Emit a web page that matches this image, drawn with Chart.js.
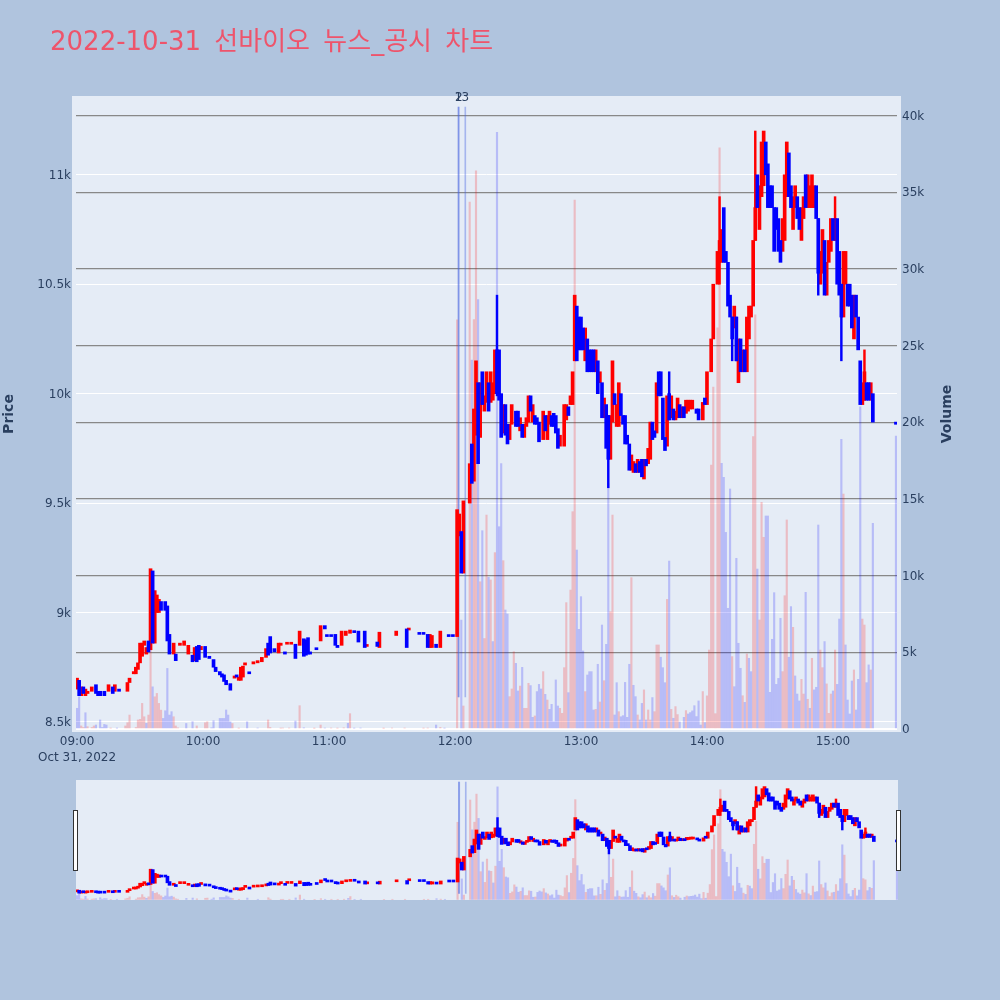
<!DOCTYPE html>
<html><head><meta charset="utf-8">
<style>
html,body{margin:0;padding:0;background:#B0C4DE;width:1000px;height:1000px;overflow:hidden}
canvas{position:absolute;left:0}
#main{top:0}#mini{top:780px}
</style>
<script src="https://cdn.jsdelivr.net/npm/chart.js@4"></script>
</head><body>
<canvas id="main" width="1000" height="780"></canvas>
<canvas id="mini" width="1000" height="120"></canvas>
<script>
const chartTitle = '2022-10-31 선바이오 뉴스_공시 차트';
const timeTicks = [0,60,120,180,240,300,360];
const timeLabels = [['09:00','Oct 31, 2022'],'10:00','11:00','12:00','13:00','14:00','15:00'];
const priceTicks = [8500,9000,9500,10000,10500,11000];
const priceLabels = ['8.5k','9k','9.5k','10k','10.5k','11k'];
const volumeTicks = [0,5000,10000,15000,20000,25000,30000,35000,40000];
const volumeLabels = ['0','5k','10k','15k','20k','25k','30k','35k','40k'];
const newsMinutes = [181.6,181.8,184.9];
const newsLabels = ['1','2','3'];
const newsLineFrom = 2090, newsLineTo = 40550;

// candles: minute after 09:00, open, close
const candleMinutes = [
0,1,2,3,4,5,7,9,10,11, 13,15,17,18,20,24,25,27,28,29,
30,31,32,33,34,35,36,37,38,39, 40,42,43,44,46,47,49,51,53,55,
56,57,58,59,61,63,65,66,68,69, 70,71,73,75,76,77,78,79,80,82,
84,86,88,90,91,92,94,96,97,99, 100,102,104,106,108,109,110,111,114,116,
118,119,121,123,124,126,128,130,132,134, 137,138,143,144,152,157,158,163,165,167,
168,169,171,173,177,179,181,182,183,184, 187,188,189,190,191,192,193,194,195,196,
197,198,199,200,201,202,203,204,205,206, 207,209,210,211,212,213,214,215,216,217,
218,219,220,222,223,224,225,226,227,228, 229,230,232,233,234,235,236,237,238,239,
240,241,242,243,244,245,246,247,248,249, 250,251,252,253,254,255,256,257,258,259,
260,261,262,263,264,265,266,267,268,269, 270,271,272,273,274,275,276,277,278,279,
280,281,282,283,284,285,286,287,288,289, 290,291,292,293,295,296,298,299,300,302,
303,305,306,307,308,309,310,311,312,313, 314,315,316,317,318,319,320,321,322,323,
324,325,326,327,328,329,330,331,332,333, 334,335,336,337,338,339,340,341,342,343,
344,345,346,347,348,349,350,351,352,353, 354,355,356,357,358,359,360,361,362,363,
364,365,366,367,368,369,370,371,372,373, 374,375,376,377,378,379,390];
const opens = [
8650,8690,8620,8660,8620,8630,8640,8670,8640,8640, 8640,8640,8660,8640,8650,8640,8680,8720,8720,8740,
8770,8800,8850,8810,8870,8830,9190,8860,9000,9000, 9050,9050,9030,8900,8810,8810,8850,8850,8810,8805,
8780,8845,8850,8830,8845,8800,8785,8750,8730,8720, 8715,8690,8675,8700,8715,8690,8690,8705,8760,8725,
8765,8770,8775,8795,8860,8890,8835,8815,8850,8820, 8855,8855,8855,8850,8880,8875,8885,8820,8835,8870,
8940,8895,8895,8900,8850,8850,8895,8905,8912,8915, 8915,8845,8865,8840,8895,8925,8920,8905,8905,8900,
8840,8840,8855,8840,8895,8895,8890,9350,9370,9180, 9500,9770,9600,9810,10050,9800,10100,9920,9960,10050,
9960,9970,10000,10200,10200,10000,9820,9950,9860,9790, 9860,9920,9920,9830,9860,9800,9850,9870,9990,9870,
9900,9890,9870,9790,9900,9790,9860,9900,9910,9900, 9840,9760,9760,9880,9940,9950,9950,10150,10400,10350,
10350,10300,10150,10250,10200,10200,10200,10100,10150,10050, 10050,9890,9950,9900,9700,9870,10000,9850,9850,10000,
9900,9900,9810,9770,9650,9640,9680,9640,9690,9700, 9610,9700,9680,9700,9870,9830,9820,10100,10100,9980,
9800,9760,10000,9890,9930,9880,9890,9950,9890,9940, 9910,9920,9930,9930,9930,9930,9880,9980,9950,10100,
10250,10500,10600,10600,10850,10650,10600,10450,10350,10300, 10350,10050,10250,10100,10200,10100,10250,10350,10400,10700,
11000,10750,10900,10950,11150,11050,10950,10950,10850,10850, 10800,10700,10650,10700,10900,11100,10950,10750,10850,10900,
10850,10700,10800,11000,10850,10850,10850,10850,10950,10800, 10500,10550,10700,10450,10600,10650,10800,10700,10800,10650,
10500,10350,10500,10500,10500,10450,10250,10450,10350,10150, 9950,9970,10050,10050,9970,10000,9870];
const closes = [
8700,8620,8660,8630,8650,8640,8660,8630,8620,8620, 8620,8670,8630,8670,8640,8680,8700,8730,8750,8770,
8860,8860,8870,8840,8820,9200,8860,9100,9080,9060, 9010,9010,8870,8810,8860,8780,8860,8870,8850,8775,
8840,8775,8785,8845,8795,8790,8750,8730,8715,8705, 8685,8670,8645,8710,8705,8705,8750,8755,8770,8720,
8775,8780,8795,8835,8805,8815,8820,8860,8860,8810, 8860,8860,8790,8915,8800,8805,8810,8810,8830,8940,
8925,8890,8890,8850,8840,8915,8915,8920,8908,8865, 8840,8850,8845,8910,8915,8840,8925,8900,8900,8840,
8900,8895,8840,8915,8890,8890,9470,9450,9180,9510, 9680,9590,9930,10150,9680,10050,9950,9990,10100,9920,
10100,10050,10200,10000,9970,9800,9950,9810,9770,9860, 9950,9850,9850,9890,9800,9860,9890,9990,9920,9950,
9860,9860,9780,9920,9830,9900,9920,9850,9850,9820, 9750,9810,9950,9950,9900,9990,10100,10450,10150,10200,
10200,10200,10300,10100,10100,10100,10100,10200,10000,10100, 9890,9980,9750,9700,9900,10150,9950,9950,10050,9900,
9860,9770,9770,9650,9720,9690,9640,9700,9640,9620, 9700,9670,9750,9870,9790,9800,10050,9990,9990,9790,
9740,9990,9880,9990,9880,9920,9980,9890,9940,9890, 9970,9970,9970,9970,9910,9880,9960,9950,10100,10250,
10500,10650,10700,10750,10600,10600,10400,10350,10250,10400, 10150,10250,10100,10200,10100,10350,10400,10400,10700,10850,
10850,10950,11150,11200,11000,10850,10850,10850,10650,10750, 10650,10600,10800,11000,11150,10900,10850,10900,10950,10800,
10750,10850,10900,10850,11000,10950,11000,10950,10800,10550, 10650,10750,10450,10600,10700,10800,10700,10800,10500,10450,
10350,10650,10650,10400,10400,10300,10450,10350,10200,9950, 10050,10100,9970,9970,10050,9870,9860];
// thin wicks, only where they reach beyond the body
const wickMinutes = [200,253,282,306,312,314,323,353,361,364,375];
const wickLows = [9990,9570,9880,10500,10150,10150,10700,10450,10700,10150,9970];
const wickHighs = [10450,9900,10100,10900,10350,10350,11200,10800,10900,10500,10200];

// volume per minute 0..390, ten per line; volumeSides: r = up, b = down
const volumes = [
1350,2100,200,100,1060,150,0,100,200,260,
0,590,100,300,260,0,50,0,0,50,
0,0,0,200,410,910,0,0,100,590,
630,1670,800,370,910,6700,2750,2100,2320,1670,
1230,690,1190,3950,910,1130,800,200,80,0,
0,0,360,0,0,480,0,200,0,0,
0,410,470,0,80,540,0,0,690,690,
690,1240,910,470,360,0,0,50,0,0,
0,470,0,0,0,0,60,0,0,0,
0,590,100,0,0,0,0,50,60,0,
0,60,0,0,520,0,1520,0,80,0,
0,0,0,40,0,0,260,0,60,0,
0,60,0,0,50,0,0,80,0,370,
1000,0,50,0,0,60,0,0,0,0,
0,0,0,0,0,0,40,0,0,0,
60,0,0,0,0,0,60,0,0,0,
0,0,0,0,0,50,0,60,0,0,
0,260,0,100,0,50,0,0,0,0,
0,26670,0,7100,1500,0,0,34360,24060,26700,
36400,28000,9600,12930,5900,13950,9890,9720,5700,11500,
38900,13190,17300,10975,7760,7500,2110,2610,5040,4280,
2480,2800,4020,1350,1350,2980,2830,760,850,2440,
2910,2610,3740,2260,1890,1280,1610,480,3200,1500,
1350,1020,4000,8240,2370,9060,14170,34490,11670,6500,
8630,5090,2440,3520,3740,3740,1240,1280,4220,1760,
6780,3150,5520,16000,7650,13950,915,3020,1130,800,
870,3040,760,4220,9870,2850,2110,915,590,1670,
2550,590,1240,590,2050,1130,5480,5480,4680,4000,
3020,8450,10950,1280,700,1460,940,460,0,760,
1200,980,1070,1180,1520,810,1830,260,2440,420,
2160,5150,17210,22300,1000,26150,37900,17320,16410,12820,
7870,15650,4720,2760,11130,5590,3960,2170,1740,4890,
4610,3740,19060,27000,10430,7110,14780,12500,13890,13890,
2390,5850,8890,2910,3300,7220,3740,8690,13630,4680,
7980,6630,3460,2280,1830,3240,2280,8910,1940,1350,
4610,2550,2720,13300,5150,4000,5700,2940,1020,2280,
2480,5150,2910,7170,18890,15320,5480,1890,980,3130,
3850,1240,3240,21000,7170,6780,3020,4180,3850,13410,
0,0,0,0,0,0,0,0,0,0,
19100];
const volumeSides = (
'bbrrbrrrrb'+'bbbbbrrrrb'+'bbrrrrrrrr'+'rrrbrrbrrr'+'rbbbbbrrrb'+
'brbbbbbrrb'+'brrbbbbbbb'+'bbbbrbbrrb'+'rbbrbrbrbr'+'brrbrrbrrr'+
'brrrbbrbbr'+'brbrbbrrbb'+'brbbrbrrbb'+'rrbbrbbrrb'+'bbbbrbrbbb'+
'rbbbrbrbbr'+'bbbbbrbrbb'+'rbbrbbbbbb'+'brbbrbbrbr'+'rbrbrrbrbr'+
'bbbrbbrrrb'+'brbrrrbbrb'+'bbrbrbbbbb'+'rrrrbrrrbb'+'bbrbbbbrbr'+
'brbbrrbbrb'+'bbbbrbbrbb'+'rbrrbrrrbb'+'brbrbrrbbb'+'rbbbbbbbrb'+
'rrrrrrrbbb'+'bbrbbbbrbr'+'bbrrbrrrbb'+'bbbbbbrrrb'+'brbbbrrbrb'+
'rbbbrrbrrr'+'brbbbrbbbb'+'rbbbrrbbrb'+'bbbbbbbbbb'+'b').split('');

const PRICE_MIN = 8454, PRICE_MAX = 11360, VOL_MIN = -196, VOL_MAX = 41272, X_MIN = -0.5, X_MAX = 390.5;
const RED = '#ff0000', BLUE = '#0000ff';
const LABEL_FONT = '"DejaVu Sans","Noto Sans CJK KR",sans-serif';

function buildDatasets(){
  const redBodies=[], blueBodies=[], redWicks=[], blueWicks=[];
  candleMinutes.forEach((m,i)=>{
    const o=opens[i], c=closes[i], item={x:m,y:[Math.min(o,c),Math.max(o,c)]};
    (c>=o?redBodies:blueBodies).push(item);
  });
  const side=m=>{const i=candleMinutes.indexOf(m);return closes[i]>=opens[i];};
  wickMinutes.forEach((m,i)=>{
    (side(m)?redWicks:blueWicks).push({x:m,y:[wickLows[i],wickHighs[i]]});
  });
  const redVol=[], blueVol=[];
  volumes.forEach((v,m)=>{ if(v>0) (volumeSides[m]==='r'?redVol:blueVol).push({x:m,y:v}); });
  const news=newsMinutes.map(m=>({x:m,y:[newsLineFrom,newsLineTo]}));
  const bar=(label,data,color,yAxisID,thick,order,extra)=>Object.assign({type:'bar',label,data,backgroundColor:color,borderWidth:0,yAxisID,barThickness:thick,order,grouped:false},extra||{});
  return [
    bar('Volume up',redVol,'rgba(255,0,0,0.2)','y2',1.5,6),
    bar('Volume down',blueVol,'rgba(0,0,255,0.2)','y2',1.5,5),
    bar('News',news,'rgba(70,100,225,0.4)','y2',1,4),
    bar('Price up wick',redWicks,RED,'y',1.8,3),
    bar('Price up',redBodies,RED,'y',3,2,{minBarLength:2}),
    bar('Price down wick',blueWicks,BLUE,'y',1.8,1),
    bar('Price down',blueBodies,BLUE,'y',3,0,{minBarLength:2})
  ];
}

const plotBg = {
  id:'plotBg',
  afterLayout(c){
    const t=c.titleBlock;
    if(t){
      t.left=50;
      if(!t._spaced){
        const draw=t.draw.bind(t);
        t.draw=function(){c.ctx.wordSpacing='5px';draw();c.ctx.wordSpacing='0px';};
        t._spaced=true;
      }
    }
  },
  beforeDraw(c){
    const a=c.chartArea, x=c.ctx, grow=c.canvas.id==='main'?4:0;
    x.save(); x.fillStyle='#E5ECF6';
    x.fillRect(a.left-grow,a.top,a.right-a.left+2*grow,a.bottom-a.top); x.restore();
  }
};
const overlayText = {
  id:'overlayText',
  afterDraw(c){
    const x=c.ctx;
    x.save();
    x.fillStyle='#2a3f5f'; x.textAlign='center'; x.textBaseline='middle';
    x.font='12px "DejaVu Sans"';
    newsLabels.forEach((t,i)=>x.fillText(t,c.scales.x.getPixelForValue(newsMinutes[i]),98));
    x.font='bold 14px "DejaVu Sans"';
    [['Price',9,414],['Volume',947,414]].forEach(([t,px,py])=>{
      x.save(); x.translate(px,py); x.rotate(-Math.PI/2); x.fillText(t,0,0); x.restore();
    });
    x.restore();
  }
};
const sliderHandles = {
  id:'sliderHandles',
  afterDraw(c){
    const x=c.ctx;
    x.save(); x.fillStyle='#fff'; x.strokeStyle='#333'; x.lineWidth=1;
    [[73.5,30.5],[896.5,30.5]].forEach(([l,t])=>{x.fillRect(l,t,4,60);x.strokeRect(l,t,4,60);});
    x.restore();
  }
};

Chart.defaults.font.family=LABEL_FONT;
Chart.defaults.font.size=12;
Chart.defaults.color='#2a3f5f';
Chart.defaults.animation=false;

new Chart(document.getElementById('main'),{
  type:'bar',
  data:{datasets:buildDatasets()},
  plugins:[plotBg,overlayText],
  options:{
    responsive:false, events:[], normalized:true,
    layout:{padding:0},
    plugins:{
      legend:{display:false}, tooltip:{enabled:false},
      title:{display:true,text:chartTitle,align:'start',color:'#EE546B',
        font:{size:26,weight:'normal',family:LABEL_FONT,lineHeight:'30px'},
        padding:{top:28,bottom:38}}
    },
    scales:{
      x:{type:'linear',min:X_MIN,max:X_MAX,offset:false,
        grid:{display:false,drawTicks:false},border:{display:false},
        afterBuildTicks:s=>{s.ticks=timeTicks.map(v=>({value:v}));},
        afterFit:s=>{s.height=48;},
        ticks:{autoSkip:false,maxRotation:0,minRotation:0,padding:1,font:{lineHeight:1.4},
          callback:(v)=>timeLabels[timeTicks.indexOf(v)]}},
      y:{type:'linear',position:'left',min:PRICE_MIN,max:PRICE_MAX,
        grid:{color:'#ffffff',lineWidth:1,drawTicks:false},border:{display:false},
        afterBuildTicks:s=>{s.ticks=priceTicks.map(v=>({value:v}));},
        afterFit:s=>{s.width=76;},
        ticks:{autoSkip:false,padding:5,labelOffset:1,callback:v=>priceLabels[priceTicks.indexOf(v)]}},
      y2:{type:'linear',position:'right',min:VOL_MIN,max:VOL_MAX,
        grid:{color:c=>c.tick&&c.tick.value===0?'#ffffff':'#888888',lineWidth:c=>c.tick&&c.tick.value===0?2:1.3,drawTicks:false},border:{display:false},
        afterBuildTicks:s=>{s.ticks=volumeTicks.map(v=>({value:v}));},
        afterFit:s=>{s.width=103;},
        ticks:{autoSkip:false,padding:5,labelOffset:1,callback:v=>volumeLabels[volumeTicks.indexOf(v)]}}
    }
  }
});

new Chart(document.getElementById('mini'),{
  type:'bar',
  data:{datasets:buildDatasets()},
  plugins:[plotBg,sliderHandles],
  options:{
    responsive:false, events:[], normalized:true,
    layout:{padding:{left:76,right:102,top:0,bottom:0}},
    plugins:{legend:{display:false},tooltip:{enabled:false},title:{display:false}},
    scales:{
      x:{type:'linear',display:false,offset:false,min:X_MIN,max:X_MAX},
      y:{type:'linear',display:false,min:PRICE_MIN,max:PRICE_MAX},
      y2:{type:'linear',display:false,min:VOL_MIN,max:VOL_MAX}
    }
  }
});
</script>
</body></html>
